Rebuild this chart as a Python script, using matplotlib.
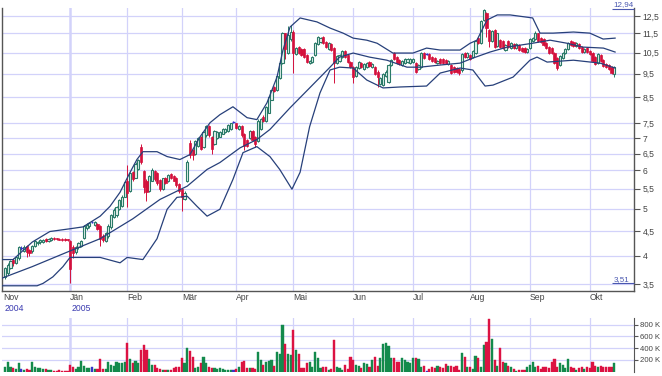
import numpy as np
import matplotlib.pyplot as plt
from matplotlib.ticker import NullLocator

plt.rcParams["font.family"] = ["Liberation Sans", "DejaVu Sans"]

# daily candles (one entry per trading day), Nov 2004 - Oct 2005
opens = [
    # Nov/Dez
    3.62, 3.68, 3.78, 3.93, 3.86, 3.95, 4.15, 4.10, 4.19, 4.12, 4.09, 4.19, 4.25, 4.27, 4.28, 4.33, 4.29, 4.31, 4.36, 4.35, 4.34, 4.34, 4.33, 4.33,
    # Jan
    4.30, 4.18, 4.08, 4.17, 4.20, 4.35, 4.56, 4.60, 4.70, 4.64, 4.66, 4.62, 4.40, 4.30, 4.40, 4.58, 4.80, 4.85, 5.00, 5.08, 5.30,
    # Feb
    5.70, 5.45, 5.95, 5.80, 6.05, 6.70, 5.98, 5.72, 5.45, 5.72, 5.98, 5.92, 5.74, 5.50, 5.80, 5.70, 5.90, 5.85, 5.80, 5.62,
    # Mar
    5.50, 5.25, 5.70, 6.85, 6.60, 6.50, 6.75, 7.05, 6.70, 7.10, 7.40, 7.05, 6.80, 7.00, 7.05, 7.15, 7.20, 7.25, 7.30, 7.55,
    # Apr
    7.50, 7.30, 7.40, 7.15, 6.95, 7.00, 7.25, 7.05, 6.90, 7.30, 7.75, 7.60, 7.90, 8.40, 8.90, 8.80, 9.30, 10.00, 11.50, 10.50, 11.20,
    # Mai
    11.60, 10.45, 10.80, 10.70, 10.70, 10.40, 10.00, 10.05, 10.40, 10.95, 11.05, 11.30, 11.05, 10.70, 10.95, 10.75, 10.00, 10.10, 10.30, 10.60, 10.40, 10.05,
    # Jun
    9.80, 9.40, 9.75, 10.00, 9.70, 9.80, 10.05, 9.80, 9.80, 9.60, 9.05, 9.00, 9.40, 9.15, 9.90, 10.50, 10.30, 10.15, 9.90, 10.00, 10.05, 10.00,
    # Jul
    10.05, 10.00, 9.70, 9.80, 10.50, 10.45, 10.45, 10.30, 10.25, 10.00, 10.20, 10.20, 10.15, 9.95, 9.90, 9.80, 9.75, 9.70, 9.65, 10.50, 10.30,
    # Aug
    10.40, 10.30, 10.50, 11.25, 11.00, 12.25, 12.70, 11.70, 11.10, 11.70, 10.85, 11.15, 11.10, 10.65, 11.10, 10.75, 10.95, 10.75, 10.90, 10.75, 10.75, 10.55,
    # Sep
    10.75, 11.10, 11.20, 11.50, 11.25, 11.20, 11.00, 10.80, 10.75, 10.50, 10.25, 9.90, 10.25, 10.50, 10.70, 11.10, 11.05, 10.85, 10.95, 10.80, 10.55, 10.75,
    # Okt
    10.60, 10.50, 10.30, 10.00, 10.40, 10.15, 9.95, 9.90, 9.80, 9.50,
]
highs = [
    3.80, 3.86, 3.92, 3.96, 4.00, 4.20, 4.19, 4.21, 4.22, 4.14, 4.22, 4.31, 4.30, 4.33, 4.33, 4.35, 4.36, 4.38, 4.37, 4.36, 4.36, 4.35, 4.35, 4.34,
    4.32, 4.22, 4.20, 4.28, 4.32, 4.63, 4.67, 4.70, 4.73, 4.71, 4.68, 4.64, 4.44, 4.48, 4.65, 4.88, 5.02, 5.08, 5.25, 5.33, 5.72,
    6.15, 5.95, 5.98, 6.25, 6.35, 6.80, 6.02, 5.75, 5.88, 6.06, 6.01, 5.95, 5.77, 5.80, 5.83, 5.90, 5.92, 5.88, 5.82, 5.65,
    5.52, 5.43, 6.30, 6.95, 6.65, 6.93, 7.04, 7.08, 7.23, 7.45, 7.43, 7.08, 7.28, 7.23, 7.23, 7.33, 7.33, 7.48, 7.53, 7.60,
    7.53, 7.43, 7.43, 7.18, 6.98, 7.28, 7.28, 7.08, 7.65, 7.70, 7.80, 8.15, 8.55, 8.85, 8.95, 9.45, 10.10, 11.60, 11.55, 11.90, 11.95,
    11.70, 10.80, 10.85, 10.75, 10.75, 10.45, 10.15, 10.35, 11.05, 11.35, 11.30, 11.35, 11.10, 11.05, 11.00, 10.80, 10.40, 10.45, 10.65, 10.65, 10.45, 10.10,
    9.85, 9.85, 10.10, 10.05, 10.00, 10.05, 10.10, 10.00, 9.85, 9.65, 9.35, 9.55, 9.65, 9.95, 10.20, 10.55, 10.35, 10.20, 10.15, 10.25, 10.25, 10.25,
    10.25, 10.05, 9.95, 10.55, 10.55, 10.50, 10.50, 10.35, 10.30, 10.15, 10.25, 10.25, 10.20, 10.15, 9.95, 9.85, 9.80, 9.75, 10.50, 10.55, 10.55,
    10.45, 10.65, 11.15, 11.30, 12.25, 12.94, 12.75, 11.75, 11.70, 11.75, 11.55, 11.20, 11.15, 10.95, 11.15, 11.05, 11.00, 11.00, 10.95, 10.80, 10.80, 10.75,
    11.25, 11.30, 11.65, 11.55, 11.30, 11.25, 11.05, 10.85, 10.80, 10.55, 10.30, 10.40, 10.55, 10.75, 11.05, 11.15, 11.10, 11.05, 11.00, 10.85, 10.75, 10.80,
    10.65, 10.55, 10.35, 10.50, 10.45, 10.20, 10.00, 9.95, 9.85, 9.85,
]
lows = [
    3.58, 3.65, 3.75, 3.82, 3.84, 3.93, 4.12, 4.07, 3.98, 4.00, 4.06, 4.17, 4.22, 4.24, 4.26, 4.27, 4.27, 4.29, 4.32, 4.31, 4.31, 4.30, 4.30, 4.29,
    3.51, 3.95, 4.04, 4.14, 4.18, 4.33, 4.52, 4.57, 4.67, 4.60, 4.52, 4.19, 4.28, 4.27, 4.36, 4.55, 4.78, 4.80, 4.97, 5.05, 5.28,
    5.05, 5.42, 5.70, 5.78, 6.00, 6.20, 5.40, 5.18, 5.42, 5.70, 5.72, 5.60, 5.45, 5.48, 5.62, 5.68, 5.75, 5.70, 5.55, 5.40,
    4.96, 5.22, 5.68, 6.38, 6.30, 6.46, 6.72, 6.60, 6.67, 7.05, 7.05, 6.50, 6.77, 6.97, 7.02, 7.12, 7.17, 7.22, 7.27, 7.50,
    7.30, 7.27, 7.05, 6.62, 6.70, 6.97, 6.90, 6.72, 6.87, 7.27, 7.55, 7.57, 7.87, 8.37, 8.70, 8.77, 9.25, 9.95, 10.20, 10.45, 11.10,
    9.55, 10.40, 10.45, 10.35, 10.25, 10.00, 9.95, 10.00, 10.35, 10.90, 11.00, 10.95, 10.75, 10.65, 10.60, 9.10, 9.95, 10.05, 10.25, 10.25, 10.00, 9.75,
    9.10, 9.35, 9.70, 9.75, 9.65, 9.75, 9.80, 9.75, 9.45, 8.92, 9.00, 8.97, 9.35, 9.10, 9.85, 10.15, 9.95, 9.90, 9.85, 9.95, 10.00, 9.95,
    10.00, 9.55, 9.65, 9.75, 10.20, 10.40, 10.15, 10.05, 10.00, 9.95, 9.95, 9.95, 9.95, 9.90, 9.50, 9.55, 9.55, 9.45, 9.60, 10.25, 10.25,
    10.15, 10.25, 10.45, 10.95, 10.95, 12.20, 11.30, 10.80, 11.05, 10.75, 10.80, 10.75, 10.70, 10.60, 10.75, 10.70, 10.70, 10.70, 10.60, 10.55, 10.50, 10.50,
    10.70, 11.05, 11.15, 11.05, 11.00, 10.85, 10.70, 10.45, 10.45, 9.95, 9.65, 9.85, 10.20, 10.45, 10.65, 10.85, 10.80, 10.80, 10.70, 10.50, 10.50, 10.50,
    10.40, 10.05, 9.90, 9.95, 10.05, 9.80, 9.75, 9.65, 9.50, 9.35,
]
closes = [
    3.77, 3.83, 3.90, 3.87, 3.97, 4.17, 4.15, 4.18, 4.07, 4.06, 4.20, 4.29, 4.28, 4.31, 4.31, 4.29, 4.34, 4.36, 4.34, 4.33, 4.32, 4.32, 4.32, 4.31,
    3.75, 4.05, 4.18, 4.26, 4.30, 4.60, 4.64, 4.68, 4.70, 4.69, 4.55, 4.34, 4.32, 4.45, 4.62, 4.85, 4.98, 5.05, 5.22, 5.30, 5.68,
    5.40, 5.92, 5.75, 6.20, 6.30, 6.25, 5.55, 5.41, 5.85, 6.00, 5.75, 5.66, 5.50, 5.78, 5.65, 5.88, 5.78, 5.72, 5.60, 5.45,
    5.30, 5.40, 6.26, 6.45, 6.45, 6.90, 7.00, 6.65, 7.20, 7.40, 7.10, 6.65, 7.25, 7.20, 7.20, 7.30, 7.30, 7.45, 7.50, 7.55,
    7.35, 7.40, 7.10, 6.75, 6.75, 7.25, 6.95, 6.80, 7.60, 7.65, 7.60, 8.10, 8.50, 8.80, 8.75, 9.40, 10.00, 11.50, 10.70, 11.40, 11.60,
    10.50, 10.75, 10.50, 10.40, 10.30, 10.05, 10.10, 10.30, 11.00, 11.30, 11.25, 11.00, 10.80, 11.00, 10.65, 10.00, 10.35, 10.40, 10.60, 10.30, 10.05, 9.80,
    9.35, 9.80, 10.05, 9.80, 9.95, 10.00, 9.85, 9.95, 9.50, 9.35, 9.30, 9.50, 9.60, 9.90, 10.15, 10.20, 10.00, 9.95, 10.10, 10.20, 10.20, 10.20,
    10.20, 9.60, 9.90, 10.50, 10.25, 10.45, 10.20, 10.10, 10.05, 10.10, 10.00, 10.00, 10.00, 10.10, 9.55, 9.60, 9.60, 9.55, 10.45, 10.30, 10.50,
    10.20, 10.60, 11.10, 11.00, 12.20, 12.85, 11.80, 11.10, 11.65, 10.80, 11.50, 10.80, 10.75, 10.90, 10.80, 11.00, 10.75, 10.95, 10.65, 10.60, 10.55, 10.70,
    11.20, 11.25, 11.55, 11.10, 11.05, 10.90, 10.75, 10.50, 10.50, 10.00, 9.75, 10.35, 10.50, 10.70, 11.00, 10.90, 10.85, 11.00, 10.75, 10.55, 10.70, 10.55,
    10.45, 10.10, 9.95, 10.45, 10.10, 9.85, 9.80, 9.70, 9.55, 9.80,
]
# traded volume in thousand shares
volume_k = [
    74, 170, 74, 57, 40, 142, 40, 28, 40, 28, 170, 74, 68, 57, 40, 40, 28, 34, 17, 17, 28, 17, 17, 20,
    113, 85, 40, 74, 181, 96, 57, 57, 74, 40, 40, 215, 40, 40, 170, 113, 96, 170, 153, 153, 160,
    493, 210, 142, 187, 142, 369, 454, 369, 210, 113, 113, 57, 40, 28, 28, 28, 28, 57, 74, 74,
    227, 142, 397, 357, 244, 57, 74, 153, 255, 153, 74, 57, 57, 40, 57, 40, 28, 28, 28, 28,
    40, 74, 170, 187, 57, 57, 57, 40, 340, 198, 120, 170, 187, 198, 96, 340, 300, 794, 470, 300, 283,
    709, 369, 300, 57, 57, 153, 170, 74, 340, 227, 57, 74, 85, 28, 40, 539, 74, 57, 28, 113, 40, 255,
    198, 113, 96, 57, 142, 130, 74, 198, 255, 96, 227, 465, 493, 442, 238, 227, 170, 170, 238, 198, 170, 142,
    227, 238, 210, 74, 96, 17, 40, 74, 57, 96, 74, 57, 130, 96, 96, 74, 96, 28, 323, 244, 74,
    74, 40, 266, 227, 74, 454, 510, 890, 550, 198, 96, 397, 170, 142, 96, 74, 40, 17, 28, 28, 28, 74,
    113, 159, 74, 96, 40, 74, 74, 57, 170, 210, 74, 153, 113, 57, 210, 74, 57, 28, 57, 74, 40, 74,
    57, 170, 96, 74, 96, 74, 74, 74, 85, 142,
]

# Bollinger bands as drawn (trading-day index, price)
upper_x = [-1, 3, 10, 16.5, 24, 28.7, 35, 38.6, 42.3, 46, 48.5, 50.7, 55.9, 59.6, 64.3, 68, 71.7, 75.4, 79, 83.8,
           89, 92.6, 96.3, 100, 102.2, 104.8, 108.5, 114.7, 119.5, 124.3, 128, 133, 136.8, 142.6, 150, 155, 160,
           167.3, 171, 173.5, 177.2, 181, 185.7, 194, 196.7, 201.5, 209, 215, 219.9, 224.3]
upper_y = [3.93, 3.93, 4.27, 4.49, 4.55, 4.59, 4.83, 5.06, 5.41, 5.95, 6.32, 6.56, 6.56, 6.41, 6.32, 6.47, 7.04, 7.53, 7.82, 8.12,
           7.71, 7.64, 8.27, 9.35, 10.63, 11.86, 12.38, 12.15, 11.80, 11.52, 11.25, 11.14, 10.98, 10.48, 10.48, 10.73, 10.63,
           10.63, 10.98, 11.14, 12.26, 12.56, 12.56, 12.38, 11.52, 11.52, 11.58, 11.52, 11.20, 11.25]
mid_x = [-1, 10, 22.8, 35, 47, 57, 67, 74.3, 79, 86.4, 92.6, 97.4, 104.8, 112, 119.5, 123, 128, 134, 140.4, 147.8,
         152.6, 160, 167.3, 172, 178.3, 184.6, 194, 200.4, 206.6, 212.5, 220, 224.3]
mid_y = [3.60, 3.80, 4.07, 4.34, 4.77, 5.23, 5.57, 6.03, 6.23, 6.68, 6.95, 7.29, 8.08, 8.88, 9.80, 10.28, 10.48, 10.28, 10.13, 9.80,
         9.80, 9.90, 9.99, 10.23, 10.53, 10.78, 10.98, 11.14, 10.98, 10.78, 10.73, 10.53]
lower_x = [-1, 5.5, 11.8, 14, 17.6, 21.3, 23.9, 35, 42.3, 44.9, 50.7, 55.9, 59.6, 63.2, 67, 70.6, 74.3, 79, 83.8, 87.5,
           92.6, 97.4, 101, 105.5, 108.5, 112, 115.8, 119.5, 123, 128, 133, 139, 145.2, 155, 160, 167.3, 172, 176.5,
           179.4, 186.8, 193, 195.6, 199.3, 209, 218.8, 224.3]
lower_y = [3.47, 3.47, 3.47, 3.51, 3.62, 3.80, 3.97, 3.97, 3.87, 3.97, 3.93, 4.34, 4.99, 5.28, 5.31, 5.06, 4.83, 4.99, 5.75, 6.53,
           6.72, 6.41, 6.03, 5.49, 5.95, 7.39, 8.67, 9.67, 9.80, 9.76, 9.22, 8.88, 8.92, 8.96, 9.53, 9.76, 9.67, 8.96,
           9.00, 9.35, 10.13, 10.28, 10.04, 10.13, 9.99, 9.76]

month_names = ["Nov", "Jän", "Feb", "Mär", "Apr", "Mai", "Jun", "Jul", "Aug", "Sep", "Okt"]
month_start = [-0.8, 24, 45, 65, 85, 106, 128, 150, 171, 193, 215]
years = {"2004": -0.8, "2005": 24}

price_ticks = [3.5, 4, 4.5, 5, 5.5, 6, 6.5, 7, 7.5, 8.5, 9.5, 10.5, 11.5, 12.5]
vol_ticks = [200, 400, 600, 800]

o = np.array(opens)
h = np.array(highs)
l = np.array(lows)
c = np.array(closes)
v = np.array(volume_k)
idx = np.arange(len(c))

green = "#2a7a68"
red = "#d4103c"
blue = "#3535c8"
grid_c = "#d2d2fa"
txt_c = "#444444"

fig = plt.figure(figsize=(6.62, 3.76), dpi=100)
ax = fig.add_axes([2 / 662, 1 - 291 / 376, 632 / 662, 283 / 376])
axv = fig.add_axes([2 / 662, 1 - 371.7 / 376, 632 / 662, 53.7 / 376])

# ---- price panel
ax.set_yscale("log")
ax.set_xlim(-1.1, 231.25)
ax.set_ylim(3.385, 12.98)
for t in price_ticks:
    ax.axhline(t, color=grid_c, lw=0.9, zorder=0)
for name, m in zip(month_names[1:], month_start[1:]):
    ax.axvline(m, color=grid_c, lw=1.8 if name == "Jän" else 0.9, zorder=0)

up = c > o
dn = c < o
eq = c == o
ax.vlines(idx[up], l[up], h[up], color=green, lw=0.7, zorder=2)
ax.vlines(idx[dn], l[dn], h[dn], color=red, lw=0.7, zorder=2)
ax.vlines(idx[eq], l[eq], h[eq], color=blue, lw=0.7, zorder=2)
ax.bar(idx[up], c[up] - o[up], bottom=o[up], width=0.8, facecolor="#e6f3ee",
       edgecolor=green, lw=0.8, zorder=3)
ax.bar(idx[dn], o[dn] - c[dn], bottom=c[dn], width=0.8, facecolor=red,
       edgecolor=red, lw=0.5, zorder=3)
ax.hlines(c[eq], idx[eq] - 0.45, idx[eq] + 0.45, color=blue, lw=1.0, zorder=3)

ax.plot(upper_x, upper_y, color="#27407a", lw=0.9, zorder=4)
ax.plot(mid_x, mid_y, color="#27407a", lw=0.9, zorder=4)
ax.plot(lower_x, lower_y, color="#27407a", lw=0.9, zorder=4)

# max / min markers
hi_i = int(np.argmax(h))
lo_i = int(np.argmin(l))
for val in (h[hi_i], l[lo_i]):
    ax.hlines(val, 223.3, 231.25, color="#4a58b0", lw=0.8, zorder=4, clip_on=False)
    ax.text(223.8, val * 1.003, f"{val:.2f}".replace(".", ","), ha="left", va="bottom",
            fontsize=5.8, color="#4a58b0", clip_on=False)

ax.yaxis.tick_right()
ax.yaxis.set_minor_locator(NullLocator())
ax.set_yticks(price_ticks)
ax.set_yticklabels([f"{t:g}".replace(".", ",") for t in price_ticks])
ax.tick_params(axis="y", length=4, width=0.8, color="#555555", labelsize=6.2,
               labelcolor=txt_c, pad=2)
ax.set_xticks([])
ax.spines["top"].set_visible(False)
for s in ("left", "right", "bottom"):
    ax.spines[s].set_color("#555555")
    ax.spines[s].set_linewidth(1.0)

xt = ax.get_xaxis_transform()
for name, m in zip(month_names, month_start):
    ax.text(m, -0.008, name, transform=xt, ha="left", va="top", fontsize=6.2, color=txt_c)
for yr, m in years.items():
    ax.text(m + 0.6, -0.045, yr, transform=xt, ha="left", va="top", fontsize=6.2, color="#3a3ab0")

# ---- volume panel
vcol = np.where(up, "#138a4c", np.where(dn, "#dc1242", blue))
axv.bar(idx, v, width=0.8, color=vcol, edgecolor=vcol, lw=0.3, zorder=3)
axv.set_xlim(ax.get_xlim())
axv.set_ylim(0, 914)
for t in vol_ticks:
    axv.axhline(t, color=grid_c, lw=0.9, zorder=0)
for name, m in zip(month_names[1:], month_start[1:]):
    axv.axvline(m, color=grid_c, lw=1.8 if name == "Jän" else 0.9, zorder=0)
axv.yaxis.tick_right()
axv.set_yticks(vol_ticks)
axv.set_yticklabels([f"{t} K" for t in vol_ticks])
axv.tick_params(axis="y", length=3, width=0.8, color="#555555", labelsize=5.6,
                labelcolor=txt_c, pad=1.5)
axv.set_xticks([])
for s in ("left", "top", "bottom"):
    axv.spines[s].set_visible(False)
axv.spines["right"].set_color("#555555")

fig.savefig("out.png", dpi=100)
